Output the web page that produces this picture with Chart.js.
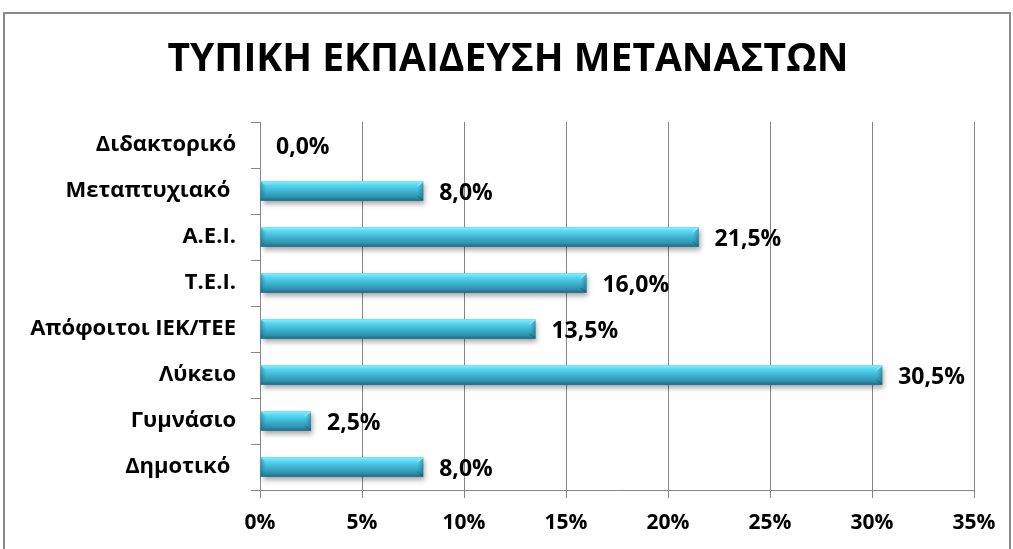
<!DOCTYPE html>
<html><head><meta charset="utf-8">
<script src="https://cdn.jsdelivr.net/npm/chart.js@4/dist/chart.umd.min.js"></script>
<style>html,body{margin:0;padding:0;background:#fff;}#wrap{width:1013px;height:549px;position:relative;}</style>
</head><body><div id="wrap"><canvas id="c" width="1013" height="549"></canvas></div>
<script>
const categories = ['Διδακτορικό', 'Μεταπτυχιακό ', 'Α.Ε.Ι.', 'Τ.Ε.Ι.', 'Απόφοιτοι ΙΕΚ/ΤΕΕ', 'Λύκειο', 'Γυμνάσιο', 'Δημοτικό '];
const values = [0.0, 8.0, 21.5, 16.0, 13.5, 30.5, 2.5, 8.0];
const xTicks = [0, 5, 10, 15, 20, 25, 30, 35];
const titleText = 'ΤΥΠΙΚΗ ΕΚΠΑΙΔΕΥΣΗ ΜΕΤΑΝΑΣΤΩΝ';
const FONT = '"Open Sans", "Noto Sans", sans-serif';

const framePlugin = {
  id: 'frame',
  beforeDraw(chart) {
    const ctx = chart.ctx;
    ctx.save();
    ctx.fillStyle = '#fff';
    ctx.fillRect(0, 0, chart.width, chart.height);
    ctx.strokeStyle = '#8a8a8a';
    ctx.lineWidth = 2;
    ctx.strokeRect(4, 13, 1006, 545);
    ctx.restore();
  },
  afterDraw(chart) {
    const ctx = chart.ctx;
    ctx.save();
    ctx.font = 'bold 39px ' + FONT;
    ctx.fillStyle = '#000';
    ctx.textAlign = 'center';
    ctx.textBaseline = 'middle';
    ctx.fillText(titleText, 508, 60);
    ctx.restore();
  }
};

const barStyle = {
  id: 'barStyle',
  afterDatasetsDraw(chart) {
    const ctx = chart.ctx;
    const meta = chart.getDatasetMeta(0);
    meta.data.forEach((el, i) => {
      const x0 = Math.min(el.base, el.x), x1 = Math.max(el.base, el.x);
      const h = el.height, yT = el.y - h / 2, yB = el.y + h / 2;
      const w = x1 - x0;
      if (w < 1) return;
      ctx.save();
      ctx.shadowColor = 'rgba(0,0,0,0.35)';
      ctx.shadowBlur = 5;
      ctx.shadowOffsetX = 2;
      ctx.shadowOffsetY = 3;
      const g = ctx.createLinearGradient(0, yT, 0, yB);
      g.addColorStop(0, '#8af0ff');
      g.addColorStop(0.2, '#55d8f3');
      g.addColorStop(0.5, '#3fb5d2');
      g.addColorStop(0.82, '#2f92ad');
      g.addColorStop(1, '#1d6a84');
      ctx.fillStyle = g;
      ctx.fillRect(x0, yT, w, h);
      ctx.restore();
      const b = Math.min(6, w / 2);
      ctx.save();
      const gr = ctx.createLinearGradient(x1 - b, 0, x1, 0);
      gr.addColorStop(0, 'rgba(40,130,160,0.0)');
      gr.addColorStop(1, 'rgba(30,100,125,0.55)');
      ctx.fillStyle = gr;
      ctx.beginPath();
      ctx.moveTo(x1, yT); ctx.lineTo(x1 - b, yT + b * 0.8); ctx.lineTo(x1 - b, yB - b * 0.8); ctx.lineTo(x1, yB); ctx.closePath();
      ctx.fill();
      ctx.strokeStyle = 'rgba(200,250,255,0.7)';
      ctx.lineWidth = 1;
      ctx.beginPath(); ctx.moveTo(x1, yT + 0.5); ctx.lineTo(x1 - b, yT + b * 0.8); ctx.stroke();
      ctx.strokeStyle = 'rgba(20,80,100,0.6)';
      ctx.beginPath(); ctx.moveTo(x1, yB - 0.5); ctx.lineTo(x1 - b, yB - b * 0.8); ctx.stroke();
      const gl = ctx.createLinearGradient(x0, 0, x0 + b, 0);
      gl.addColorStop(0, 'rgba(20,90,115,0.5)');
      gl.addColorStop(1, 'rgba(40,130,160,0.0)');
      ctx.fillStyle = gl;
      ctx.beginPath();
      ctx.moveTo(x0, yT); ctx.lineTo(x0 + b, yT + b * 0.8); ctx.lineTo(x0 + b, yB - b * 0.8); ctx.lineTo(x0, yB); ctx.closePath();
      ctx.fill();
      ctx.restore();
    });
  }
};

const labelPlugin = {
  id: 'valueLabels',
  afterDatasetsDraw(chart) {
    const ctx = chart.ctx;
    const meta = chart.getDatasetMeta(0);
    ctx.save();
    ctx.font = 'bold 23px ' + FONT;
    ctx.fillStyle = '#000';
    ctx.textAlign = 'left';
    ctx.textBaseline = 'middle';
    meta.data.forEach((el, i) => {
      const t = values[i].toFixed(1).replace('.', ',') + '%';
      ctx.fillText(t, el.x + 16, el.y + 2);
    });
    ctx.restore();
  }
};

new Chart(document.getElementById('c'), {
  type: 'bar',
  data: {
    labels: categories,
    datasets: [{
      data: values,
      backgroundColor: '#3fb5d2',
      borderWidth: 0,
      barPercentage: 0.42,
      categoryPercentage: 1.0
    }]
  },
  options: {
    indexAxis: 'y',
    responsive: false,
    animation: false,
    devicePixelRatio: 1,
    layout: { padding: { left: 0, right: 39, top: 122, bottom: 0 } },
    plugins: {
      legend: { display: false },
      tooltip: { enabled: false },
      title: { display: false }
    },
    scales: {
      x: {
        min: 0, max: 35,
        afterBuildTicks(axis) { axis.ticks = xTicks.map(v => ({ value: v })); },
        afterFit(axis) { axis.height = 59; },
        grid: { color: '#868686', lineWidth: 1, tickLength: 8, drawTicks: true },
        border: { color: '#868686', width: 1 },
        ticks: {
          color: '#000',
          padding: 12,
          maxRotation: 0,
          font: { family: FONT, size: 21, weight: 'bold' },
          callback: v => v + '%'
        }
      },
      y: {
        afterFit(axis) { axis.width = 260; },
        grid: { drawOnChartArea: false, color: '#868686', tickLength: 9, offset: true },
        border: { color: '#868686', width: 1 },
        ticks: {
          color: '#000',
          padding: 15,
          font: { family: FONT, size: 22, weight: 'bold' }
        }
      }
    }
  },
  plugins: [framePlugin, barStyle, labelPlugin]
});
</script></body></html>
